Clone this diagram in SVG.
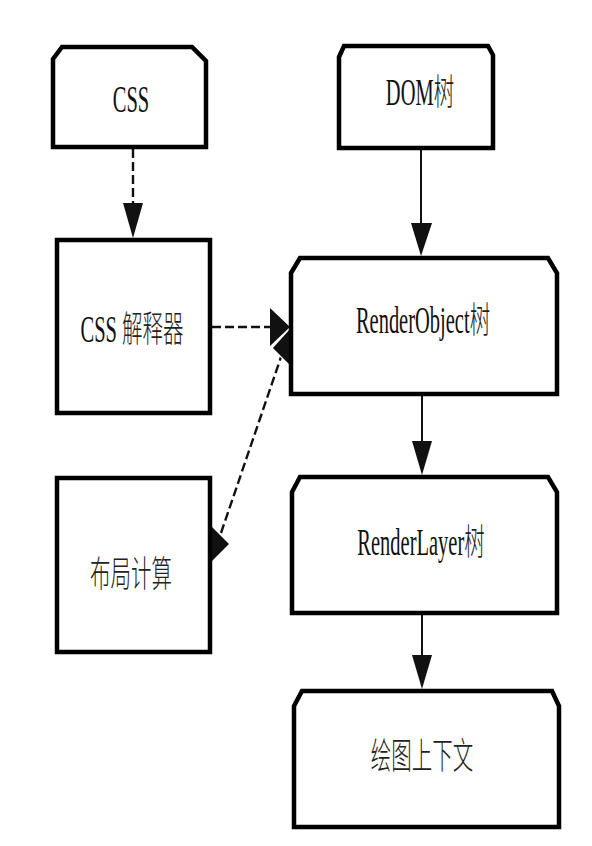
<svg xmlns="http://www.w3.org/2000/svg" width="592" height="846" viewBox="0 0 592 846">
<style>
.box{fill:#ffffff;stroke:#000000;stroke-width:4.5;stroke-linejoin:miter}
.lbl{font-family:"Liberation Serif","Noto Sans CJK SC",serif;font-size:20.5px;fill:#111111;text-anchor:middle}
.cjk{font-family:"Noto Sans CJK SC",sans-serif;font-weight:300;fill:#222222}
.solid{stroke:#111111;stroke-width:2;fill:none}
.dash{stroke:#111111;stroke-width:2.4;fill:none;stroke-dasharray:9 4}
.head{fill:#111111}
</style>
<rect width="592" height="846" fill="#ffffff"/>
<g id="connectors">
<line class="dash" x1="133" y1="149" x2="133" y2="205"/>
<polygon class="head" points="123,203 143,203 133,238"/>
<line class="solid" x1="421" y1="150" x2="421" y2="225"/>
<polygon class="head" points="411,223 432,223 421,256"/>
<line class="solid" x1="422" y1="396" x2="422" y2="443"/>
<polygon class="head" points="412,441 432,441 422,475"/>
<line class="solid" x1="422" y1="615" x2="422" y2="657"/>
<polygon class="head" points="412,655 432,655 422,689"/>
<line class="dash" x1="212" y1="327" x2="270" y2="327"/>
<polygon class="head" points="270,308 290,327 270,346"/>
<line class="dash" x1="221" y1="533" x2="281" y2="357" stroke-dasharray="8 5" stroke-width="2"/>
<polygon class="head" points="291,327 290,366 272,348" stroke="#ffffff" stroke-width="1.2"/>
<polygon class="head" points="210,525 229,544 210,563"/>
</g>
<g id="css">
<path class="box" d="M53,59 L62,47 L192,47 L206,61 L206,147 L53,147 Z"/>
<text class="lbl" transform="translate(131,112) scale(1,1.8)">CSS</text>
</g>
<g id="dom">
<path class="box" d="M339,57 L344,46 L488,46 L493,55 L493,148 L339,148 Z"/>
<text class="lbl" transform="translate(420,105) scale(1,1.8)">DOM<tspan class="cjk">树</tspan></text>
</g>
<g id="cssparser">
<rect class="box" x="57" y="240" width="153" height="173"/>
<text class="lbl" transform="translate(132,342) scale(1,1.8)">CSS <tspan class="cjk">解释器</tspan></text>
</g>
<g id="renderobject">
<path class="box" d="M291,273 L300,258 L548,258 L557,273 L557,394 L291,394 Z"/>
<text class="lbl" transform="translate(423,333) scale(1,1.8)">RenderObject<tspan class="cjk">树</tspan></text>
</g>
<g id="layout">
<rect class="box" x="57" y="478" width="153" height="174"/>
<text class="lbl cjk" transform="translate(131,587) scale(1,1.8)">布局计算</text>
</g>
<g id="renderlayer">
<path class="box" d="M292,492 L300,477 L548,477 L557,492 L557,613 L292,613 Z"/>
<text class="lbl" transform="translate(421,555) scale(1,1.8)">RenderLayer<tspan class="cjk">树</tspan></text>
</g>
<g id="context">
<path class="box" d="M294,706 L302,691 L552,691 L559,706 L559,827 L294,827 Z"/>
<text class="lbl cjk" transform="translate(422,769) scale(1,1.8)">绘图上下文</text>
</g>
</svg>
